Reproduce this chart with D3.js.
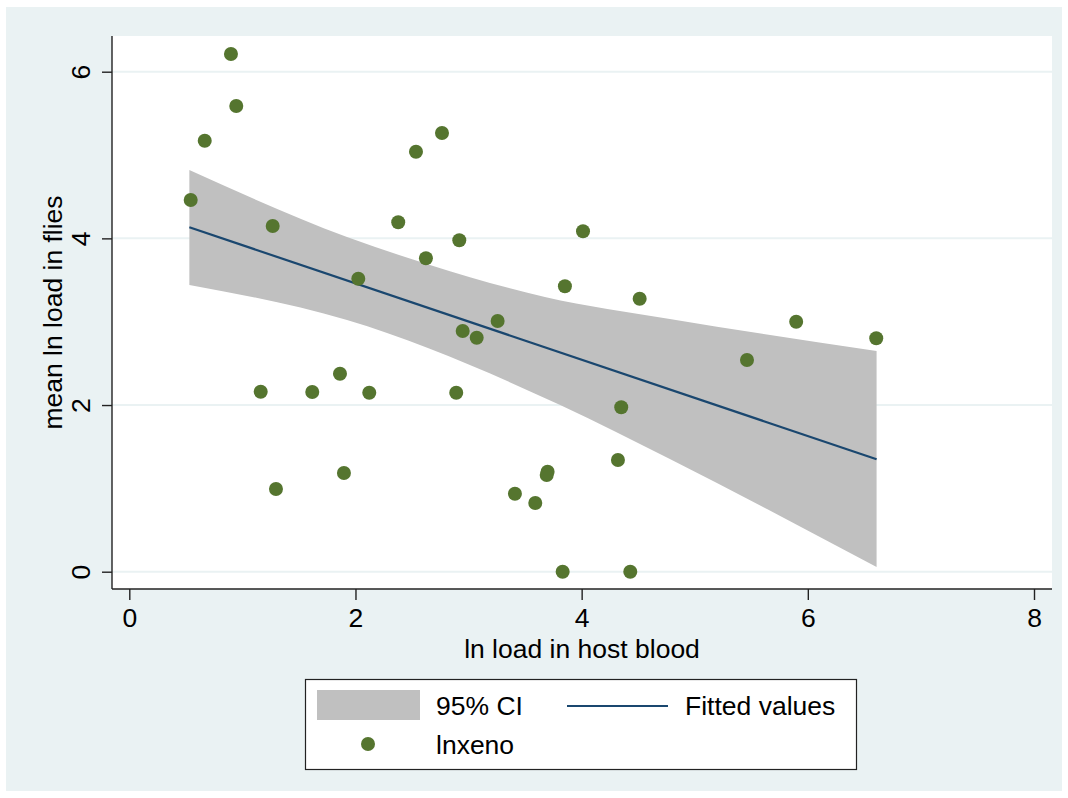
<!DOCTYPE html>
<html>
<head>
<meta charset="utf-8">
<script src="https://cdn.jsdelivr.net/npm/d3@7"></script>
<style>
  html, body { margin: 0; padding: 0; background: #fff; }
  svg text { font-family: "Liberation Sans", Arial, Helvetica, sans-serif; fill: #000; }
</style>
</head>
<body>
<div id="chart"></div>
<script>
// observed points: ln load in host blood vs mean ln load in flies
const hostBlood = [0.543, 0.667, 0.899, 0.946, 1.268, 1.162, 1.297, 1.618, 1.863, 1.898,
  2.025, 2.122, 2.378, 2.535, 2.623, 2.765, 2.891, 2.918, 2.948, 3.072,
  3.257, 3.410, 3.590, 3.699, 3.691, 3.832, 3.852, 4.012, 4.321, 4.350,
  4.430, 4.513, 5.462, 5.897, 6.605];
const fliesLoad = [4.460, 5.172, 6.213, 5.589, 4.149, 2.160, 0.992, 2.156, 2.376, 1.184,
  3.516, 2.148, 4.193, 5.040, 3.761, 5.265, 2.148, 3.977, 2.889, 2.808,
  3.009, 0.936, 0.824, 1.200, 1.160, 0.000, 3.425, 4.085, 1.340, 1.973,
  0.000, 3.276, 2.540, 3.000, 2.801];

// fitted values (endpoints)
const fitX = [0.531, 6.608];
const fitY = [4.133, 1.349];

// 95% CI band edges
const ciUpperX = [0.531, 1.925, 2.659, 3.675, 4.780, 6.608];
const ciUpperY = [4.821, 4.017, 3.681, 3.297, 3.032, 2.649];
const ciLowerX = [0.531, 1.925, 3.810, 4.780, 6.608];
const ciLowerY = [3.440, 3.020, 2.000, 1.352, 0.056];

const xTicks = [0, 2, 4, 6, 8];
const yTicks = [0, 2, 4, 6];

const W = 1068, H = 798;
const frame = { left: 112, right: 1052, top: 36, bottom: 589 };
const FONT = 26.5;
const BG = '#eaf2f3';

const svg = d3.select('#chart').append('svg')
  .attr('width', W)
  .attr('height', H);

svg.append('rect')
  .attr('x', 6).attr('y', 7)
  .attr('width', 1056).attr('height', 784)
  .attr('fill', BG);

svg.append('rect')
  .attr('x', frame.left).attr('y', frame.top)
  .attr('width', frame.right - frame.left)
  .attr('height', frame.bottom - frame.top)
  .attr('fill', '#fff');

const x = d3.scaleLinear().domain([0, 8]).range([129.3, 1034]);
const y = d3.scaleLinear().domain([0, 6]).range([571.7, 71.7]);

// gridlines
svg.append('g')
  .selectAll('line')
  .data(yTicks)
  .join('line')
  .attr('x1', frame.left)
  .attr('x2', frame.right)
  .attr('y1', d => y(d))
  .attr('y2', d => y(d))
  .attr('stroke', BG)
  .attr('stroke-width', 2);

// CI band
const upperPts = ciUpperX.map((v, i) => [x(v), y(ciUpperY[i])]);
const lowerPts = ciLowerX.map((v, i) => [x(v), y(ciLowerY[i])]);
const edge = d3.line().curve(d3.curveMonotoneX);
const lowerRev = edge(lowerPts.slice().reverse());
const bandPath = edge(upperPts) + 'L' + lowerRev.slice(1) + 'Z';

svg.append('path')
  .attr('d', bandPath)
  .attr('fill', '#c0c0c0');

// fitted line
svg.append('path')
  .datum(fitX.map((v, i) => [v, fitY[i]]))
  .attr('d', d3.line().x(d => x(d[0])).y(d => y(d[1])))
  .attr('fill', 'none')
  .attr('stroke', '#1a476f')
  .attr('stroke-width', 2.2);

// scatter
svg.append('g')
  .selectAll('circle')
  .data(hostBlood.map((v, i) => ({ x: v, y: fliesLoad[i] })))
  .join('circle')
  .attr('cx', d => x(d.x))
  .attr('cy', d => y(d.y))
  .attr('r', 7)
  .attr('fill', '#55752f');

// axes
const xAxis = svg.append('g')
  .attr('transform', `translate(0,${frame.bottom})`)
  .call(d3.axisBottom(x).tickValues(xTicks).tickSize(11).tickPadding(8).tickFormat(d3.format('d')));
xAxis.select('.domain')
  .attr('d', `M${frame.left},0H${frame.right}`)
  .attr('stroke', '#222')
  .attr('stroke-width', 1.4);
xAxis.selectAll('.tick line').attr('stroke', '#222').attr('stroke-width', 1.4);
xAxis.selectAll('.tick text')
  .attr('font-size', FONT)
  .attr('font-family', '"Liberation Sans", Arial, sans-serif')
  .attr('fill', '#000')
  .attr('dy', null)
  .attr('y', 38);

const yAxis = svg.append('g')
  .attr('transform', `translate(${frame.left},0)`)
  .call(d3.axisLeft(y).tickValues(yTicks).tickSize(10).tickFormat(d3.format('d')));
yAxis.select('.domain')
  .attr('d', `M0,${frame.top}V${frame.bottom}`)
  .attr('stroke', '#222')
  .attr('stroke-width', 1.4);
yAxis.selectAll('.tick line').attr('stroke', '#222').attr('stroke-width', 1.4);
yAxis.selectAll('.tick text')
  .attr('font-size', FONT)
  .attr('font-family', '"Liberation Sans", Arial, sans-serif')
  .attr('fill', '#000')
  .attr('x', null)
  .attr('dy', null)
  .attr('text-anchor', 'middle')
  .attr('transform', 'translate(-22,0) rotate(-90)');

// axis titles
svg.append('text')
  .attr('x', (frame.left + frame.right) / 2)
  .attr('y', 658)
  .attr('text-anchor', 'middle')
  .attr('font-size', FONT)
  .text('ln load in host blood');

svg.append('text')
  .attr('transform', `translate(62,${(frame.top + frame.bottom) / 2}) rotate(-90)`)
  .attr('text-anchor', 'middle')
  .attr('font-size', FONT)
  .text('mean ln load in flies');

// legend
const legend = svg.append('g');
legend.append('rect')
  .attr('x', 305.5).attr('y', 679.5)
  .attr('width', 551).attr('height', 90)
  .attr('fill', '#fff')
  .attr('stroke', '#222')
  .attr('stroke-width', 1.2);
legend.append('rect')
  .attr('x', 317).attr('y', 690)
  .attr('width', 103).attr('height', 30)
  .attr('fill', '#c0c0c0');
legend.append('text')
  .attr('x', 436).attr('y', 715)
  .attr('font-size', FONT)
  .text('95% CI');
legend.append('line')
  .attr('x1', 567).attr('x2', 668)
  .attr('y1', 706).attr('y2', 706)
  .attr('stroke', '#1a476f')
  .attr('stroke-width', 2.2);
legend.append('text')
  .attr('x', 685).attr('y', 715)
  .attr('font-size', FONT)
  .text('Fitted values');
legend.append('circle')
  .attr('cx', 368).attr('cy', 744)
  .attr('r', 7)
  .attr('fill', '#55752f');
legend.append('text')
  .attr('x', 436).attr('y', 754)
  .attr('font-size', FONT)
  .text('lnxeno');
</script>
</body>
</html>
